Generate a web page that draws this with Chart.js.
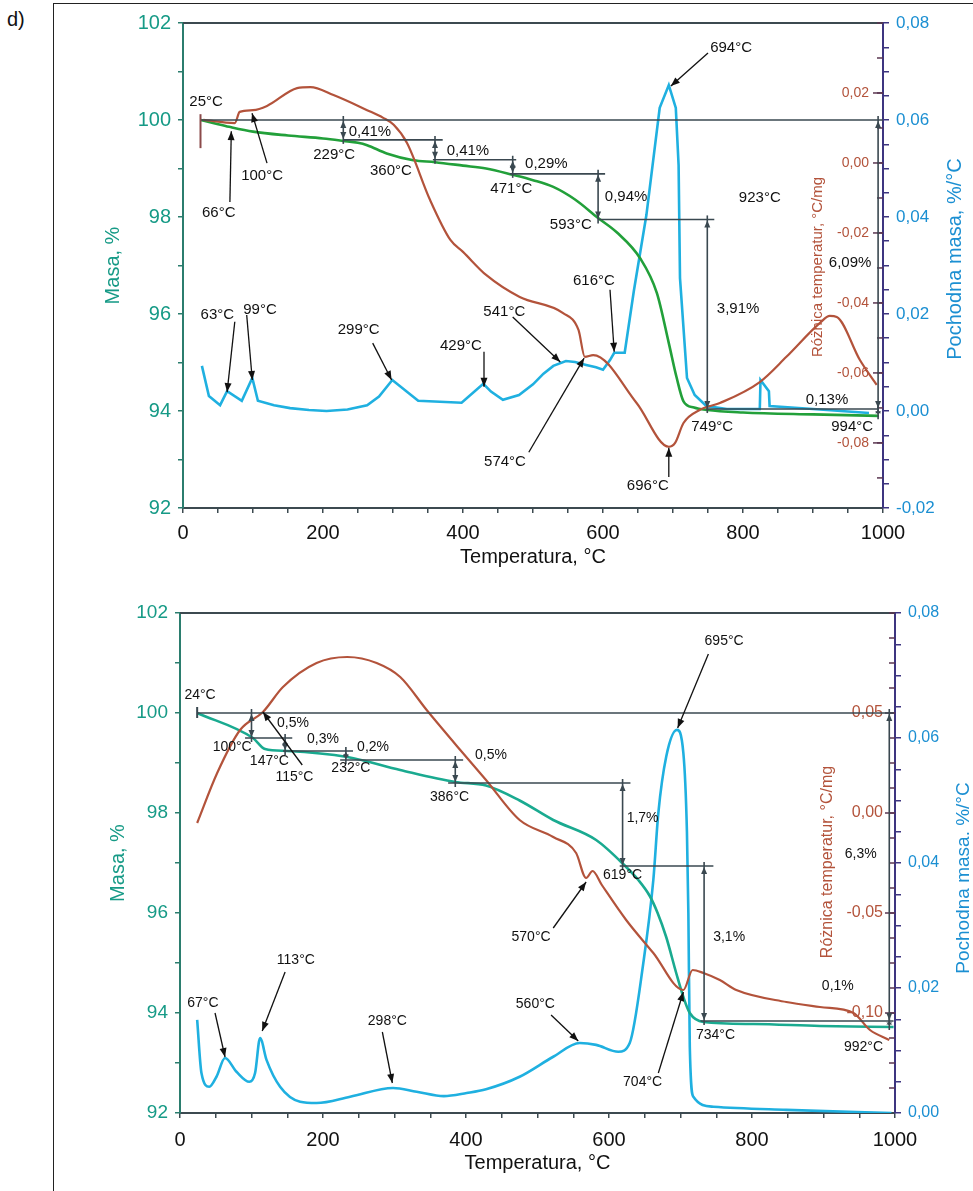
<!DOCTYPE html>
<html>
<head>
<meta charset="utf-8">
<script src="https://cdn.jsdelivr.net/npm/chart.js@4.4.1/dist/chart.umd.min.js"></script>
<style>
  html, body { margin: 0; padding: 0; background: #fff; overflow: hidden; }
  body { width: 973px; height: 1191px; position: relative; }
  #frame { position: absolute; left: 53px; top: 3px; width: 1000px; height: 1300px; border: 1.5px solid #222; }
  #tag { position: absolute; left: 7px; top: 8px; font: 20px 'Liberation Sans', Arial, sans-serif; color: #111; }
  canvas { position: absolute; left: 0; }
</style>
</head>
<body>
<div id="frame"></div>
<div id="tag">d)</div>
<canvas id="top" width="973" height="590" style="top:0"></canvas>
<canvas id="bot" width="973" height="601" style="top:590px"></canvas>
<script>
// ---- top sample: TG (mass %), DTG (%/°C), DTA (°C/mg) ----
const tgTopT = [25, 40, 66, 100, 150, 200, 229, 250, 263, 291, 329, 360, 400, 433, 471, 500, 529, 560, 593, 620, 653, 677, 694, 705, 715, 730, 749, 800, 900, 994];
const tgTopM = [100, 99.95, 99.86, 99.76, 99.68, 99.62, 99.57, 99.53, 99.48, 99.31, 99.17, 99.13, 99.06, 99.0, 98.87, 98.76, 98.62, 98.36, 97.98, 97.68, 97.15, 96.43, 95.4, 94.7, 94.2, 94.07, 94.02, 93.97, 93.93, 93.9];
const dtgTopT = [27, 37, 53, 63, 84, 99, 107, 130, 153, 180, 205, 235, 263, 280, 299, 336, 398, 429, 440, 457, 480, 500, 515, 529, 547, 560, 576, 590, 600, 610, 616, 631, 644, 662, 681, 694, 704, 708, 710, 720, 731, 748, 777, 824, 825, 837, 838, 900, 980];
const dtgTopV = [0.0093, 0.0031, 0.0012, 0.0041, 0.0021, 0.0068, 0.0021, 0.0012, 0.0006, 0.0002, 0.0, 0.0003, 0.0012, 0.003, 0.0064, 0.0021, 0.0017, 0.0056, 0.004, 0.0023, 0.0033, 0.0055, 0.0077, 0.0093, 0.0103, 0.0101, 0.0095, 0.009, 0.0085, 0.0105, 0.012, 0.012, 0.0247, 0.0404, 0.0625, 0.0672, 0.0625, 0.0507, 0.0274, 0.0068, 0.0033, 0.001, 0.0004, 0.0004, 0.0064, 0.0041, 0.001, 0.0004, -0.0004];
const dtaTopT = [29, 74, 81, 100, 120, 163, 182, 215, 263, 286, 301, 320, 353, 382, 400, 433, 481, 543, 565, 574, 586, 648, 694, 703, 715, 738, 767, 824, 862, 910, 924, 934, 967, 991];
const dtaTopV = [0.0123, 0.0114, 0.0146, 0.0151, 0.0163, 0.0214, 0.0217, 0.0194, 0.0151, 0.0129, 0.0109, 0.0057, -0.0106, -0.022, -0.0254, -0.032, -0.0383, -0.0429, -0.0477, -0.0554, -0.0549, -0.0686, -0.0811, -0.08, -0.0743, -0.0706, -0.0686, -0.0626, -0.0554, -0.0457, -0.0437, -0.044, -0.0563, -0.0634];
const dtaTicksTop = [0.02, 0, -0.02, -0.04, -0.06, -0.08];

// step lines [from °C, to °C, mass], double arrows [°C, mass1, mass2]
const hlTop = [[25, 1000, 100], [229, 371, 99.59], [357, 476, 99.18], [467, 603, 98.89], [594, 759, 97.95], [747, 994, 94.04]];
const vlTop = [[229, 100, 99.59], [360, 99.59, 99.18], [471, 99.18, 98.89], [593, 98.89, 97.95], [749, 97.95, 94.04], [993, 100, 94.04], [993, 94.04, 93.91]];
const vtTop = [[25, 100.12, 99.42, '#8b4a4a']];
// arrows [tail °C, tail mass, tip °C, tip mass]
const arTop = [[67, 98.31, 69, 99.77], [120, 99.11, 98.6, 100.14], [750, 101.38, 697, 100.7], [74, 95.84, 63, 94.39], [91, 95.98, 99, 94.64],
  [271, 95.40, 298, 94.64], [430, 95.22, 430, 94.5], [471, 95.94, 539, 95.01], [610, 96.5, 616, 95.22], [494, 93.15, 573, 95.09], [694, 92.64, 694, 93.24]];
const lbTop = [['25°C', 33, 100.37], ['66°C', 51, 98.08], ['100°C', 113, 98.85], ['0,41%', 267, 99.75], ['229°C', 216, 99.28], ['360°C', 297, 98.95],
  ['0,41%', 407, 99.36], ['471°C', 469, 98.58], ['0,29%', 519, 99.09], ['593°C', 554, 97.84], ['0,94%', 633, 98.41], ['923°C', 824, 98.39],
  ['694°C', 783, 101.48], ['6,09%', 953, 97.05], ['3,91%', 793, 96.1], ['63°C', 49, 95.98], ['99°C', 110, 96.08], ['299°C', 251, 95.67],
  ['429°C', 397, 95.34], ['541°C', 459, 96.04], ['616°C', 587, 96.68], ['574°C', 460, 92.95], ['696°C', 664, 92.45], ['749°C', 756, 93.67],
  ['994°C', 956, 93.67], ['0,13%', 920, 94.23]];

// ---- bottom sample ----
const tgBotT = [24, 102, 119, 150, 234, 308, 385, 428, 475, 522, 582, 624, 641, 657, 668, 680, 694, 704, 713, 732, 802, 895, 998];
const tgBotM = [100, 99.5, 99.28, 99.24, 99.12, 98.86, 98.62, 98.55, 98.25, 97.86, 97.46, 96.92, 96.66, 96.34, 96.0, 95.52, 94.8, 94.32, 94.0, 93.82, 93.78, 93.74, 93.72];
const dtgBotT = [24, 30, 41, 51, 63, 79, 97, 105, 112, 121, 140, 168, 191, 238, 298, 331, 369, 401, 428, 475, 522, 559, 582, 613, 629, 648, 662, 669, 680, 695, 704, 709, 711, 713, 718, 746, 848, 995];
const dtgBotV = [0.0149, 0.0064, 0.0042, 0.0058, 0.0088, 0.0066, 0.005, 0.0064, 0.012, 0.0085, 0.0042, 0.0018, 0.0016, 0.0026, 0.004, 0.0034, 0.0027, 0.0032, 0.0038, 0.0058, 0.009, 0.0112, 0.0109, 0.0098, 0.0112, 0.024, 0.0373, 0.048, 0.057, 0.0613, 0.0576, 0.045, 0.032, 0.0106, 0.0026, 0.001, 0.0005, 0.0];
const dtaBotT = [24, 52, 84, 116, 144, 191, 234, 275, 308, 345, 392, 428, 475, 522, 554, 568, 577, 590, 624, 662, 704, 717, 732, 755, 778, 848, 895, 942, 965, 992];
const dtaBotV = [-0.005, 0.02, 0.0415, 0.0505, 0.063, 0.075, 0.078, 0.075, 0.068, 0.0515, 0.0315, 0.0165, -0.0035, -0.012, -0.02, -0.0325, -0.029, -0.036, -0.0535, -0.07, -0.0885, -0.0785, -0.08, -0.0835, -0.0885, -0.0945, -0.097, -0.1, -0.1085, -0.1135];
const dtaTicksBot = [0.05, 0, -0.05, -0.1];

const hlBot = [[24, 998, 100], [91, 157, 99.5], [144, 242, 99.24], [224, 396, 99.06], [375, 630, 98.6], [615, 746, 96.94], [728, 998, 93.84]];
const vlBot = [[100, 100, 99.5], [147, 99.5, 99.24], [232, 99.24, 99.06], [385, 99.06, 98.6], [619, 98.6, 96.94], [733, 96.94, 93.84], [992, 100, 93.84], [992, 93.84, 93.74]];
const vtBot = [[24, 100.12, 99.9, '#3a4850']];
const arBot = [[739, 101.18, 696, 99.7], [522, 95.7, 568, 96.62], [519, 93.96, 557, 93.44], [669, 92.8, 704, 94.42], [49, 94.0, 63, 93.12],
  [147, 94.82, 115, 93.64], [283, 93.62, 297, 92.6], [171, 98.96, 116, 100.02]];
const lbBot = [['24°C', 28, 100.36], ['100°C', 73, 99.32], ['147°C', 125, 99.04], ['115°C', 160, 98.72], ['0,5%', 158, 99.8], ['0,3%', 200, 99.48],
  ['0,2%', 270, 99.32], ['232°C', 239, 98.9], ['386°C', 377, 98.32], ['0,5%', 435, 99.16], ['695°C', 761, 101.44], ['1,7%', 647, 97.9],
  ['619°C', 619, 96.76], ['6,3%', 952, 97.18], ['570°C', 491, 95.52], ['3,1%', 768, 95.52], ['560°C', 497, 94.18], ['704°C', 647, 92.62],
  ['734°C', 749, 93.56], ['0,1%', 920, 94.54], ['992°C', 956, 93.32], ['67°C', 32, 94.2], ['113°C', 162, 95.06], ['298°C', 290, 93.84]];

const FONT = "'Liberation Sans', Arial, sans-serif";
const TEAL = '#169a86', BLUE = '#1b8fd2', BROWN = '#b3533b', CYAN = '#1fb0e0';
const AXIS = '#3c4a50', PURPLE = '#3d3580', STEP = '#3a4850';

const pts = (xs, ys) => xs.map((x, i) => ({ x: x, y: ys[i] }));
const fmt2 = v => v.toFixed(2).replace('.', ',');

function line(ctx, x1, y1, x2, y2) {
  ctx.beginPath(); ctx.moveTo(x1, y1); ctx.lineTo(x2, y2); ctx.stroke();
}
function head(ctx, x1, y1, x2, y2, len, w) {
  const a = Math.atan2(y2 - y1, x2 - x1);
  const bx = x2 - len * Math.cos(a), by = y2 - len * Math.sin(a);
  ctx.beginPath();
  ctx.moveTo(x2, y2);
  ctx.lineTo(bx + w * Math.sin(a), by - w * Math.cos(a));
  ctx.lineTo(bx - w * Math.sin(a), by + w * Math.cos(a));
  ctx.closePath(); ctx.fill();
}
function dbl(ctx, x, y1, y2) {
  const top = Math.min(y1, y2), bot = Math.max(y1, y2);
  line(ctx, x, top - 4, x, bot + 4);
  const h = Math.min(7, (bot - top) / 2);
  head(ctx, x, top + 10, x, top + 1, h, 3);
  head(ctx, x, bot - 10, x, bot - 1, h, 3);
}

function notesPlugin(c) {
  return {
    id: 'notes',
    afterDraw(chart) {
      const { ctx, chartArea: a, scales } = chart;
      const X = v => scales.x.getPixelForValue(v);
      const Y = v => scales.y.getPixelForValue(v);
      const D = v => scales.y3.getPixelForValue(v);
      ctx.save();
      ctx.lineCap = 'butt';
      // top frame line
      ctx.strokeStyle = AXIS; ctx.lineWidth = 2;
      line(ctx, a.left, a.top, a.right, a.top);

      // inner DTA axis (ticks + labels, left of the right axis line)
      ctx.strokeStyle = '#5a3550'; ctx.lineWidth = 1.5;
      for (let k = Math.ceil(c.dtaMin / c.dtaMinor); k * c.dtaMinor <= c.dtaMax + 1e-9; k++) {
        const yy = D(k * c.dtaMinor);
        line(ctx, a.right - 6, yy, a.right, yy);
      }
      ctx.fillStyle = BROWN; ctx.font = c.dtaFont + 'px ' + FONT;
      ctx.textAlign = 'right'; ctx.textBaseline = 'middle';
      c.dtaTicks.forEach(v => {
        const yy = D(v);
        line(ctx, a.right - 10, yy, a.right, yy);
        ctx.fillText(fmt2(v), a.right - c.dtaGap, yy);
      });

      // rotated titles
      ctx.textAlign = 'center';
      ctx.save();
      ctx.translate(c.dtaTitle[0], c.dtaTitle[1]); ctx.rotate(-Math.PI / 2);
      ctx.font = c.dtaTitle[2] + 'px ' + FONT; ctx.fillStyle = BROWN;
      ctx.fillText('Różnica temperatur, °C/mg', 0, 0);
      ctx.restore();
      ctx.save();
      ctx.translate(c.rTitle[0], c.rTitle[1]); ctx.rotate(-Math.PI / 2);
      ctx.font = c.rTitle[2] + 'px ' + FONT; ctx.fillStyle = BLUE;
      ctx.fillText(c.rTitle[3], 0, 0);
      ctx.restore();

      // mass-loss step lines
      ctx.strokeStyle = STEP; ctx.fillStyle = STEP; ctx.lineWidth = 1.6;
      c.hl.forEach(([x1, x2, m]) => line(ctx, X(x1), Y(m), X(x2), Y(m)));
      c.vl.forEach(([t, m1, m2]) => dbl(ctx, X(t), Y(m1), Y(m2)));
      c.vt.forEach(([t, m1, m2, col]) => { ctx.strokeStyle = col; ctx.lineWidth = 2; line(ctx, X(t), Y(m1), X(t), Y(m2)); });

      // pointer arrows
      ctx.strokeStyle = '#111'; ctx.fillStyle = '#111'; ctx.lineWidth = 1.3;
      c.ar.forEach(([x1, y1, x2, y2]) => {
        line(ctx, X(x1), Y(y1), X(x2), Y(y2));
        head(ctx, X(x1), Y(y1), X(x2), Y(y2), 9, 3.5);
      });

      // labels
      ctx.font = c.noteFont + 'px ' + FONT; ctx.fillStyle = '#111';
      ctx.textAlign = 'center'; ctx.textBaseline = 'middle';
      c.lb.forEach(([t, xv, yv]) => ctx.fillText(t, X(xv), Y(yv)));
      ctx.restore();
    }
  };
}

function buildChart(id, c) {
  return new Chart(document.getElementById(id), {
    type: 'line',
    data: {
      datasets: [
        { data: pts(c.dtaT, c.dtaV), yAxisID: 'y3', borderColor: BROWN, borderWidth: 2.2, cubicInterpolationMode: 'monotone' },
        { data: pts(c.tgT, c.tgM), yAxisID: 'y', borderColor: c.tgColor, borderWidth: 2.6, cubicInterpolationMode: 'monotone' },
        { data: pts(c.dtgT, c.dtgV), yAxisID: 'y2', borderColor: CYAN, borderWidth: 2.6,
          cubicInterpolationMode: c.dtgSmooth ? 'monotone' : 'default', tension: 0 }
      ]
    },
    options: {
      responsive: false, animation: false, devicePixelRatio: 1,
      elements: { point: { radius: 0 } },
      layout: { padding: c.pad },
      plugins: { legend: { display: false }, tooltip: { enabled: false } },
      scales: {
        x: {
          type: 'linear', min: 0, max: 1000,
          ticks: { stepSize: 50, autoSkip: false, maxRotation: 0, color: '#111', font: { family: FONT, size: 20 }, padding: c.xPad,
            callback: v => Math.round(v) % 200 === 0 ? String(Math.round(v)) : '' },
          grid: { drawOnChartArea: false, color: AXIS, tickLength: 5, lineWidth: 1.5 },
          border: { color: AXIS, width: 2 },
          title: { display: true, text: 'Temperatura, °C', color: '#111', font: { family: FONT, size: 20 }, padding: 0 },
          afterFit: s => { s.height = c.xH; }
        },
        y: {
          position: 'left', min: 92, max: 102,
          ticks: { stepSize: 0.5, color: TEAL, font: { family: FONT, size: c.yFont }, padding: 7,
            callback: v => Math.round(v * 10) % 20 === 0 ? String(Math.round(v)) : '' },
          grid: { drawOnChartArea: false, color: '#2b7d6e', tickLength: 5, lineWidth: 1.5 },
          border: { color: '#2b7d6e', width: 2 },
          title: { display: true, text: 'Masa, %', color: TEAL, font: { family: FONT, size: 20 }, padding: 0 },
          afterFit: s => { s.width = c.yW; }
        },
        y2: {
          position: 'right', min: c.dtgMin, max: 0.08,
          ticks: { stepSize: 0.005, color: BLUE, font: { family: FONT, size: c.y2Font }, padding: 7,
            callback: v => Math.round(v * 1000) % 20 === 0 ? fmt2(v) : '' },
          grid: { drawOnChartArea: false, color: PURPLE, tickLength: 6, lineWidth: 1.5 },
          border: { color: PURPLE, width: 2 },
          afterFit: s => { s.width = c.y2W; }
        },
        y3: { display: false, min: c.dtaMin, max: c.dtaMax }
      }
    },
    plugins: [notesPlugin(c)]
  });
}

buildChart('top', {
  tgT: tgTopT, tgM: tgTopM, dtgT: dtgTopT, dtgV: dtgTopV, dtaT: dtaTopT, dtaV: dtaTopV,
  tgColor: '#22a03a', dtgSmooth: false,
  dtgMin: -0.02, dtaMin: -0.0986, dtaMax: 0.04, dtaMinor: 0.01, dtaTicks: dtaTicksTop, dtaFont: 14, dtaGap: 14,
  pad: { left: 101, right: 30, top: 23, bottom: 21 }, yW: 82, y2W: 60, xH: 61, xPad: 8, yFont: 20, y2Font: 17,
  dtaTitle: [818, 267, 15], rTitle: [955, 259, 20, 'Pochodna masa, %/°C'], noteFont: 15,
  hl: hlTop, vl: vlTop, vt: vtTop, ar: arTop, lb: lbTop
});

buildChart('bot', {
  tgT: tgBotT, tgM: tgBotM, dtgT: dtgBotT, dtgV: dtgBotV, dtaT: dtaBotT, dtaV: dtaBotV,
  tgColor: '#1aaa90', dtgSmooth: true,
  dtgMin: 0, dtaMin: -0.15, dtaMax: 0.10, dtaMinor: 0.0125, dtaTicks: dtaTicksBot, dtaFont: 16, dtaGap: 12,
  pad: { left: 106, right: 18, top: 23, bottom: 16 }, yW: 74, y2W: 60, xH: 62, xPad: 10, yFont: 19, y2Font: 16,
  dtaTitle: [828, 272, 16], rTitle: [964, 288, 19, 'Pochodna masa. %/°C'], noteFont: 14,
  hl: hlBot, vl: vlBot, vt: vtBot, ar: arBot, lb: lbBot
});
</script>
</body>
</html>
